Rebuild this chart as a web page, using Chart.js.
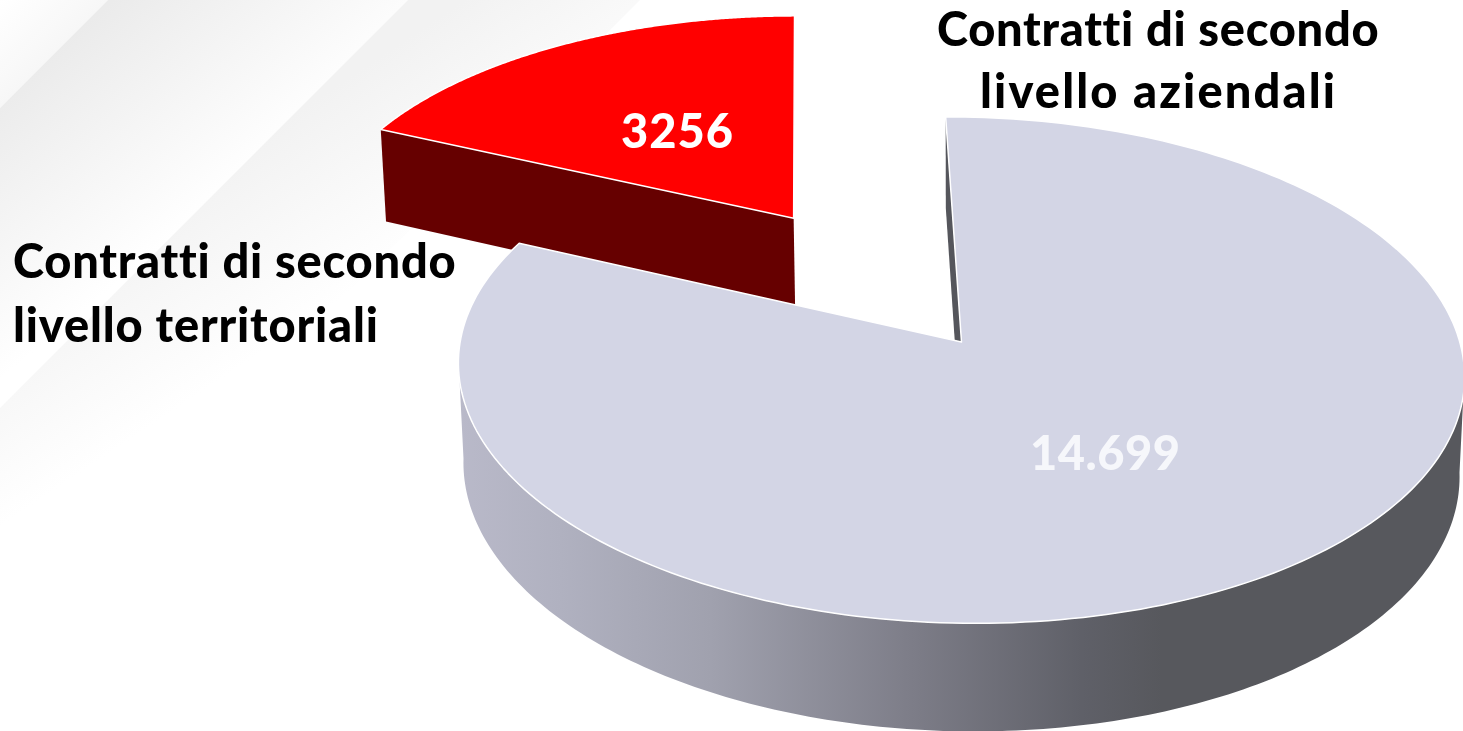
<!DOCTYPE html>
<html>
<head>
<meta charset="utf-8">
<style>html,body{margin:0;padding:0;background:#fff;overflow:hidden}canvas{display:block}</style>
<script src="https://cdn.jsdelivr.net/npm/chart.js@4/dist/chart.umd.js"></script>
</head>
<body>
<canvas id="c" width="1463" height="731"></canvas>
<script>
const categories = ["Contratti di secondo livello territoriali", "Contratti di secondo livello aziendali"];
const values = [3256, 14699];
const valueLabels = ["3256", "14.699"];
const labelLines = [["Contratti di secondo", "livello territoriali"], ["Contratti di secondo", "livello aziendali"]];
const topColors = ["#ff0000", "#d3d5e5"];
const explode = [312, 0];

// perspective projection of the pie plane to the screen
const VIEW = {x0: 961.5, y0: 342, a: 500, b: 250, k: 0.111, m: 0.01, depth: 100, shear: 0.014};
function proj(u, v, z) {
  const w = 1 - VIEW.k * v + VIEW.m * z;
  const dx = VIEW.a * u / w;
  return [VIEW.x0 + dx, VIEW.y0 + (VIEW.b * v + VIEW.depth * z) / w + VIEW.shear * dx];
}

class Arc3D extends Chart.ArcElement {
  static id = 'arc3d';
  draw(ctx) {
    const R = this.outerRadius, o = this.options;
    const s = this.startAngle, e = this.endAngle, mid = (s + e) / 2;
    const off = (o.offset || 0) / R;
    const cu = Math.cos(mid) * off, cv = Math.sin(mid) * off;
    const pt = (a, z) => proj(cu + Math.cos(a), cv + Math.sin(a), z);
    const apex = z => proj(cu, cv, z);
    const isRed = this.$context.dataIndex === 0;
    ctx.save();
    ctx.lineJoin = 'round';
    const poly = (pts, fill) => {
      ctx.beginPath();
      pts.forEach((p, i) => i ? ctx.lineTo(p[0], p[1]) : ctx.moveTo(p[0], p[1]));
      ctx.closePath();
      ctx.fillStyle = fill;
      ctx.fill();
    };
    if (isRed) {
      poly([apex(0), pt(s, 0), pt(s, 1), apex(1)], '#660000');
    } else {
      poly([apex(0), pt(s, 0), pt(s, 1), apex(1)], '#55565c');
      const g = ctx.createLinearGradient(460, 0, 1463, 0);
      g.addColorStop(0, '#b9b9c9');
      g.addColorStop(0.1, '#b0b1c0');
      g.addColorStop(0.25, '#a0a1ae');
      g.addColorStop(0.45, '#7d7d88');
      g.addColorStop(0.62, '#5f6068');
      g.addColorStop(0.7, '#57585d');
      g.addColorStop(1, '#57585d');
      const rim = [];
      const a0 = Math.PI * 0.03, a1 = Math.PI * 0.97;
      for (let i = 0; i <= 180; i++) rim.push(pt(a0 + (a1 - a0) * i / 180, 0));
      for (let i = 180; i >= 0; i--) rim.push(pt(a0 + (a1 - a0) * i / 180, 1));
      poly(rim, g);
    }
    const top = [apex(0)];
    const n = 240;
    for (let i = 0; i <= n; i++) top.push(pt(s + (e - s) * i / n, 0));
    poly(top, o.backgroundColor);
    ctx.strokeStyle = o.borderColor;
    ctx.lineWidth = o.borderWidth;
    ctx.stroke();
    ctx.restore();
  }
}
class Pie3D extends Chart.PieController {
  static id = 'pie3d';
  static defaults = {dataElementType: 'arc3d'};
}
Chart.register(Arc3D, Pie3D);

function band(ctx, pts, x0, y0, x1, y1, from, to) {
  const g = ctx.createLinearGradient(x0, y0, x1, y1);
  g.addColorStop(0, from);
  g.addColorStop(1, to);
  ctx.beginPath();
  pts.forEach((p, i) => i ? ctx.lineTo(p[0], p[1]) : ctx.moveTo(p[0], p[1]));
  ctx.closePath();
  ctx.fillStyle = g;
  ctx.fill();
}

function fitText(ctx, text, x, y, width, font, color) {
  ctx.font = font;
  ctx.letterSpacing = '0px';
  const w0 = ctx.measureText(text).width;
  ctx.letterSpacing = ((width - w0) / (text.length - 1)) + 'px';
  ctx.fillStyle = color;
  ctx.textAlign = 'left';
  ctx.textBaseline = 'alphabetic';
  ctx.fillText(text, x, y);
  ctx.letterSpacing = '0px';
}

const backdrop = {
  id: 'backdrop',
  beforeDraw(chart) {
    const ctx = chart.ctx;
    ctx.save();
    ctx.fillStyle = '#ffffff';
    ctx.fillRect(0, 0, 1463, 731);
    band(ctx, [[0, 0], [108, 0], [0, 108]], 0, 0, 54, 54, '#ffffff', '#f7f7f7');
    band(ctx, [[108, 0], [408, 0], [0, 408], [0, 108]], 90, 20, 230, 190, '#ebebeb', '#ffffff');
    band(ctx, [[408, 0], [640, 0], [0, 640], [0, 408]], 300, 110, 400, 260, '#f2f2f2', '#ffffff');
    ctx.restore();
  }
};

const textLayer = {
  id: 'textLayer',
  afterDatasetsDraw(chart) {
    const ctx = chart.ctx;
    ctx.save();
    const f = '900 47px Lato';
    fitText(ctx, labelLines[0][0], 13, 278, 441, f, '#000');
    fitText(ctx, labelLines[0][1], 13, 342, 365, f, '#000');
    fitText(ctx, labelLines[1][0], 937, 46, 440, f, '#000');
    fitText(ctx, labelLines[1][1], 980, 108, 355, f, '#000');
    fitText(ctx, valueLabels[0], 621, 148, 112, f, '#ffffff');
    fitText(ctx, valueLabels[1], 1030, 470, 150, f, '#f6f7fb');
    ctx.restore();
  }
};

new Chart(document.getElementById('c'), {
  type: 'pie3d',
  data: {
    labels: categories,
    datasets: [{
      data: values,
      backgroundColor: topColors,
      borderColor: '#ffffff',
      borderWidth: 1.5,
      offset: explode
    }]
  },
  options: {
    responsive: false,
    animation: false,
    radius: 500,
    rotation: -67.3,
    events: [],
    plugins: {legend: {display: false}, tooltip: {enabled: false}}
  },
  plugins: [backdrop, textLayer]
});
</script>
</body>
</html>
